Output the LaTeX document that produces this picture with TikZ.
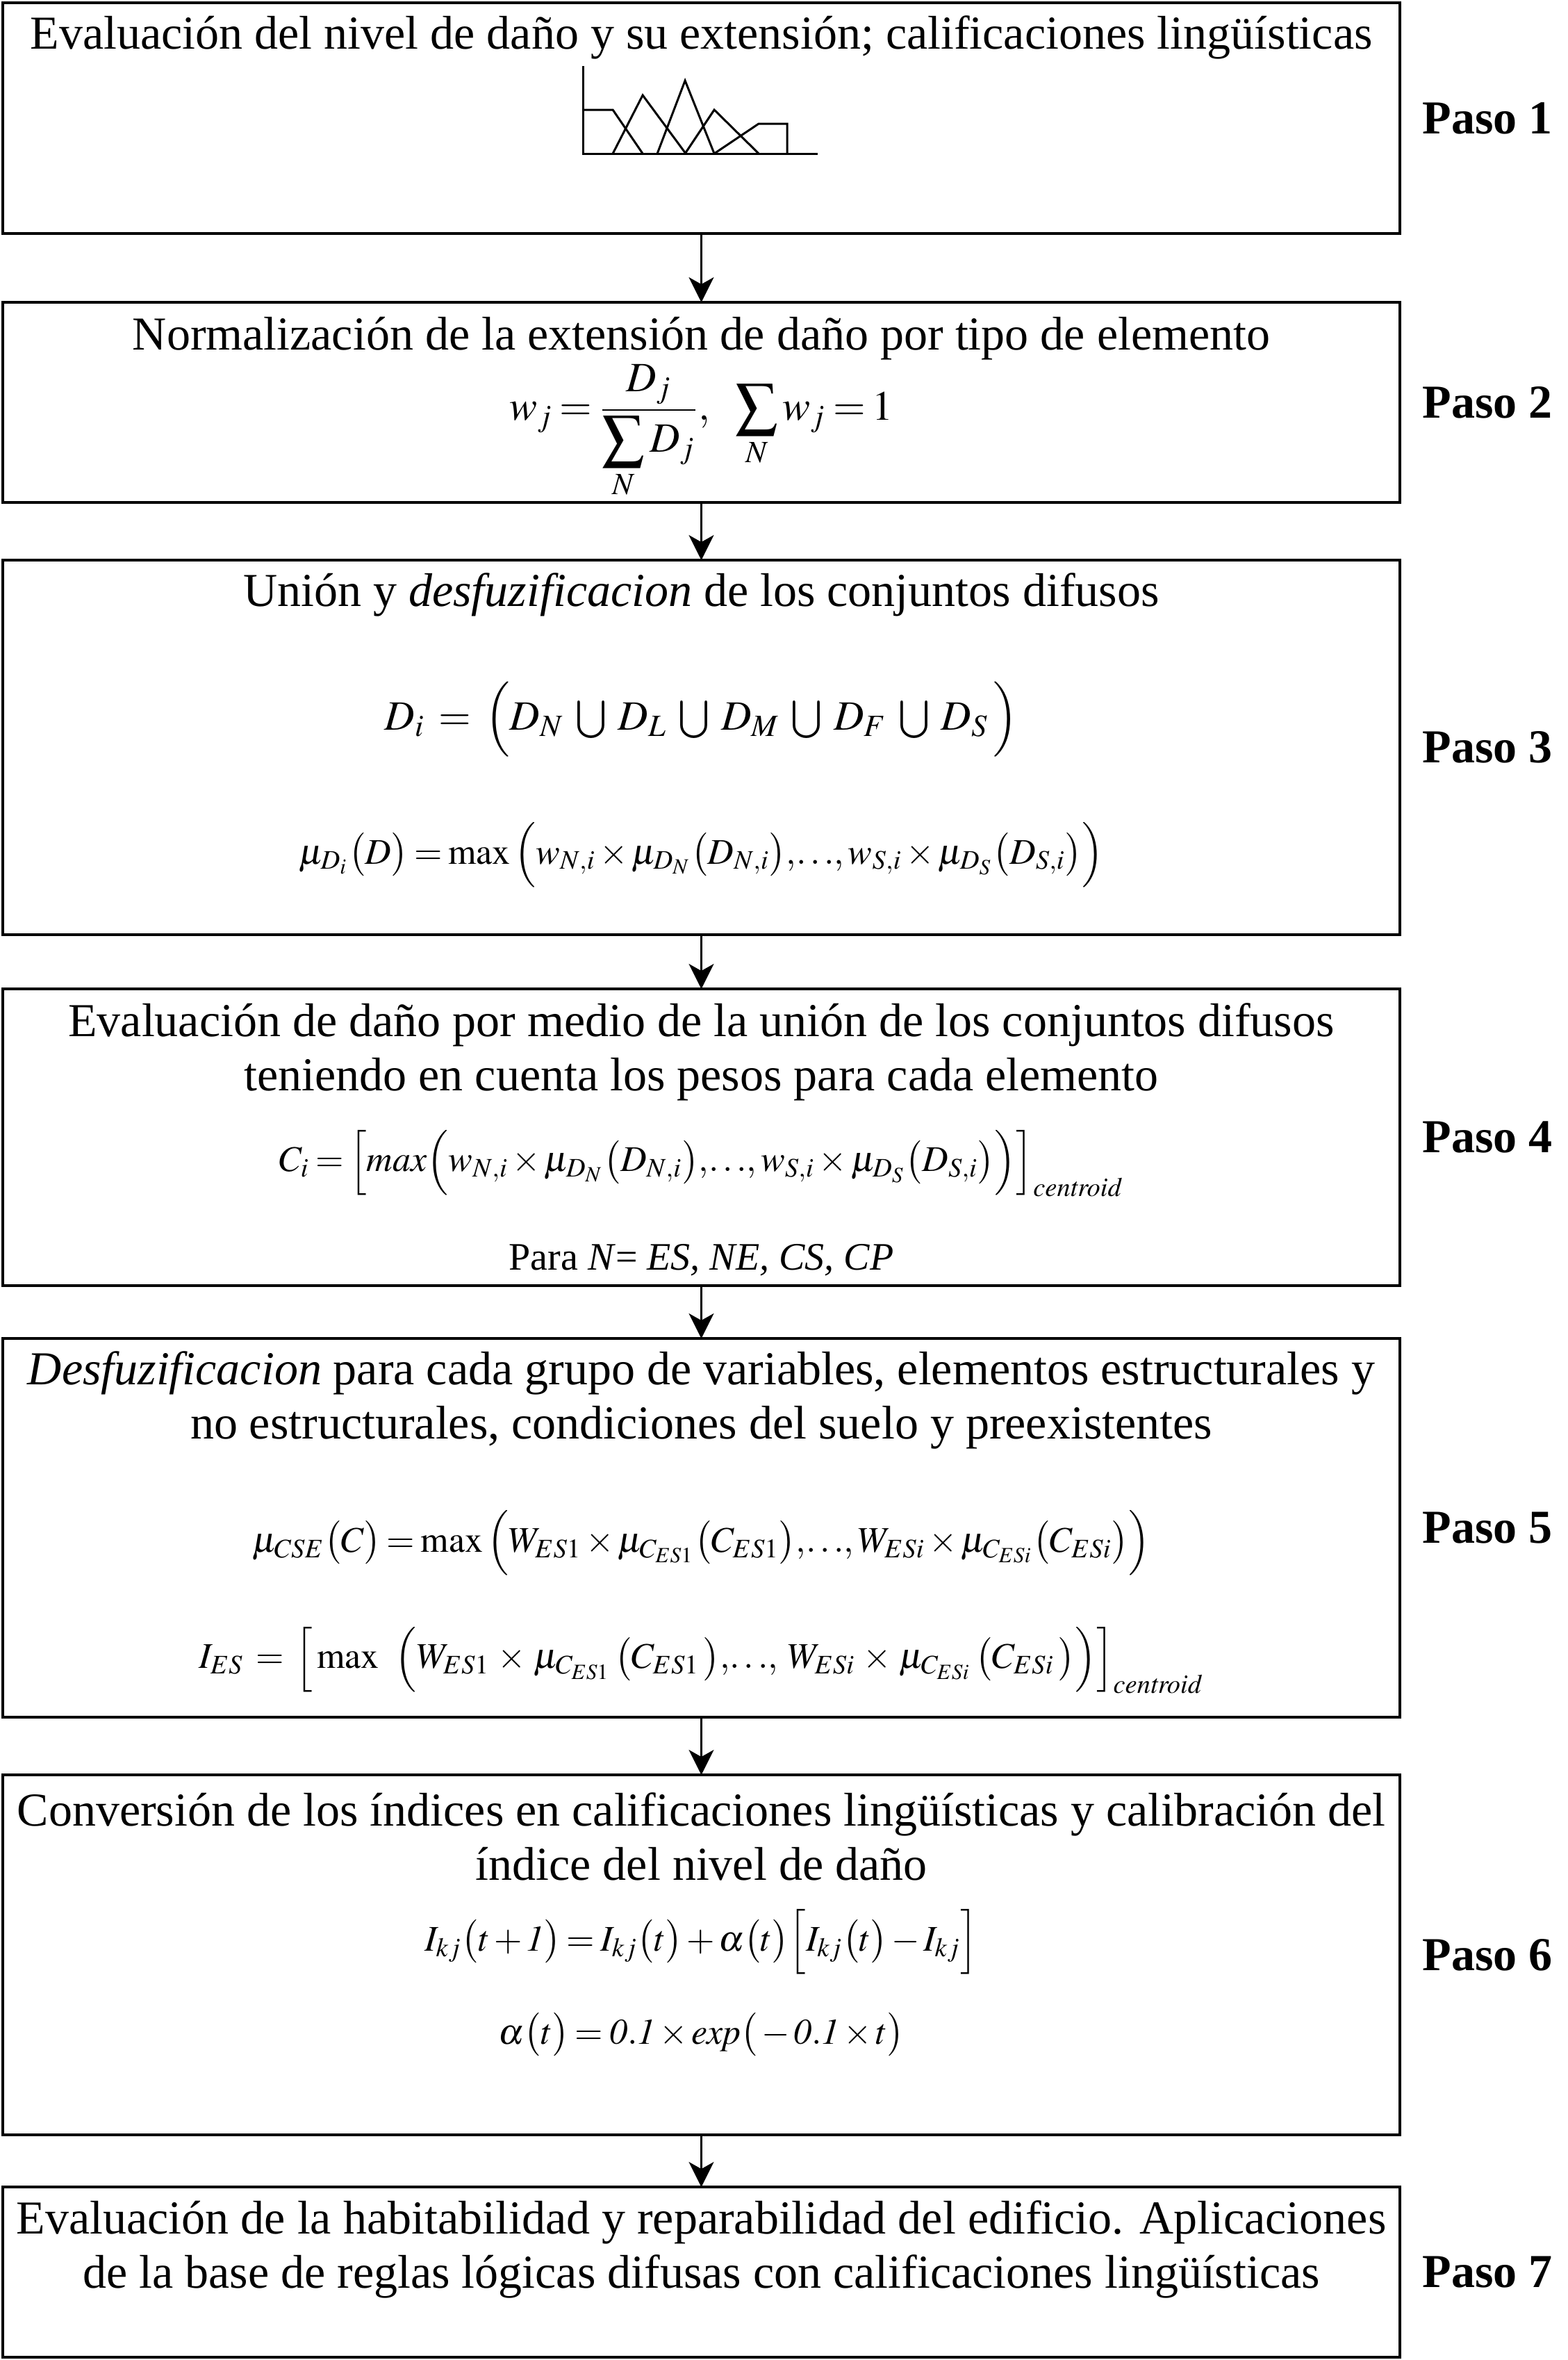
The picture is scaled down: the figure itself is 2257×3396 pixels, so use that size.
\documentclass[tikz,border=0pt]{standalone}
\usepackage{amsmath}
\usepackage{mathptmx}
\usepackage{fontspec}
\setmainfont{Liberation Serif}
\usetikzlibrary{arrows.meta,positioning}
\newcommand{\txtsize}{\fontsize{17}{19.5}\selectfont}
\newcommand{\fmsize}{\fontsize{13}{16}\selectfont\thickmuskip=3mu\relax\medmuskip=2mu\relax}
\newcommand{\fmbsize}{\fontsize{15}{18}\selectfont\thickmuskip=3mu\relax\medmuskip=2mu\relax}
\tikzset{stepbox/.style={draw,line width=1pt,minimum width=502.75pt,inner sep=0pt,outer sep=0pt},
 tx/.style={align=center,font=\txtsize,inner sep=0pt},
 fm/.style={align=center,font=\fmsize,inner sep=0pt},
 fmb/.style={align=center,font=\fmbsize,inner sep=0pt},
 paso/.style={font=\fontsize{17}{20}\selectfont\bfseries,inner sep=0pt},
 ar/.style={-{Stealth[length=9pt,width=9pt,inset=2.5pt]},line width=.75pt},
 fz/.style={line width=.75pt}}
\begin{document}
\begin{tikzpicture}[x=0.25pt,y=-0.25pt]
\useasboundingbox (0,0) rectangle (2257,3396);
% boxes
\node[stepbox,minimum height=83pt](s1) at (1009.5,170){};
\node[stepbox,minimum height=72pt,below=24.75pt of s1](s2){};
\node[stepbox,minimum height=134.75pt,below=20.75pt of s2](s3){};
\node[stepbox,minimum height=106.75pt,below=19.5pt of s3](s4){};
\node[stepbox,minimum height=136.25pt,below=19pt of s4](s5){};
\node[stepbox,minimum height=129.5pt,below=20.75pt of s5](s6){};
\node[stepbox,minimum height=61.25pt,below=18.75pt of s6](s7){};
% step labels
\node[paso,right=8pt of s1](p1){Paso 1};\node[paso,right=8pt of s2](p2){Paso 2};
\node[paso,right=8pt of s3](p3){Paso 3};\node[paso,right=8pt of s4](p4){Paso 4};
\node[paso,right=8pt of s5](p5){Paso 5};\node[paso,right=8pt of s6](p6){Paso 6};
\node[paso,right=8pt of s7](p7){Paso 7};
% step 1
\node[tx](t1) at ([yshift=-12.5pt]s1.north){Evaluación del nivel de daño y su extensión; calificaciones lingüísticas};
\coordinate (g0) at ([xshift=-42.6pt,yshift=-54.25pt]s1.north);
\begin{scope}[shift={(g0)},fz]
\draw (0,-126)--(0,0)--(338,0);
\draw (0,-63)--(43,-63)--(86,0);\draw (43,0)--(86,-84)--(148,0);
\draw (107,0)--(147,-105)--(189,0);\draw (147,0)--(189,-63)--(253,0);
\draw (189,0)--(253,-43)--(294,-43)--(294,0);
\end{scope}
% step 2
\node[tx](t2) at ([yshift=-13pt]s2.north){Normalización de la extensión de daño por tipo de elemento};
\node[fmb](f2) at ([yshift=-46.5pt]s2.north){$w_j=\dfrac{D_j}{\displaystyle\sum_N D_j},\;\;\;\displaystyle\sum_N w_j=1$};
% step 3
\node[tx](t3) at ([yshift=-12.5pt]s3.north){Unión y \textit{desfuzificacion} de los conjuntos difusos};
\node[fmb](f3a) at ([yshift=-57.25pt]s3.north){$D_i\;=\;\Big(D_N\;\bigcup\;D_L\;\bigcup\;D_M\;\bigcup\;D_F\;\bigcup\;D_S\,\Big)$};
\node[fm](f3b) at ([yshift=-106pt]s3.north){$\mu_{D_i}\big(D\big)=\max\Big(w_{N,i}\times\mu_{D_N}\big(D_{N,i}\big),\!\ldots\!,w_{S,i}\times\mu_{D_S}\big(D_{S,i}\big)\Big)$};
% step 4
\node[tx](t4) at ([yshift=-22.75pt]s4.north){Evaluación de daño por medio de la unión de los conjuntos difusos\\teniendo en cuenta los pesos para cada elemento};
\node[fm](f4) at ([yshift=-62.75pt]s4.north){$C_i=\Big[\mathit{max}\Big(w_{N,i}\times\mu_{D_N}\big(D_{N,i}\big),\!\ldots\!,w_{S,i}\times\mu_{D_S}\big(D_{S,i}\big)\Big)\Big]_{\mathit{centroid}}$};
\node[fmb,font=\fontsize{14}{17}\selectfont](n4) at ([yshift=-97.5pt]s4.north){Para \textit{N}= \textit{ES, NE, CS, CP}};
% step 5
\node[tx](t5) at ([yshift=-22.1pt]s5.north){\textit{Desfuzificacion} para cada grupo de variables, elementos estructurales y\\no estructurales, condiciones del suelo y preexistentes};
\node[fm](f5a) at ([yshift=-73.5pt]s5.north){$\mu_{CSE}\big(C\big)=\max\Big(W_{ES1}\times\mu_{C_{ES1}}\big(C_{ES1}\big),\!\ldots\!,W_{ESi}\times\mu_{C_{ESi}}\big(C_{ESi}\big)\Big)$};
\node[fm](f5b) at ([yshift=-115.75pt]s5.north){$I_{ES}\;=\;\Big[\max\;\;\Big(W_{ES1}\,\times\,\mu_{C_{ES1}}\,\big(C_{ES1}\,\big),\!\ldots\!,\;W_{ESi}\,\times\,\mu_{C_{ESi}}\,\big(C_{ESi}\,\big)\Big)\Big]_{\mathit{centroid}}$};
% step 6
\node[tx](t6) at ([yshift=-22.1pt]s6.north){Conversión de los índices en calificaciones lingüísticas y calibración del\\índice del nivel de daño};
\node[fm](f6a) at ([yshift=-60pt]s6.north){$I_{kj}\big(t+\mathit{1}\big)=I_{kj}\big(t\big)+\alpha\big(t\big)\Big[I_{kj}\big(t\big)-I_{kj}\Big]$};
\node[fm](f6b) at ([yshift=-93.5pt]s6.north){$\alpha\big(t\big)=\mathit{0.1}\times\mathit{exp}\big(-\mathit{0.1}\times t\big)$};
% step 7
\node[tx](t7) at ([yshift=-22.5pt]s7.north){Evaluación de la habitabilidad y reparabilidad del edificio. Aplicaciones\\de la base de reglas lógicas difusas con calificaciones lingüísticas};
% arrows
\draw[ar](s1)--(s2);\draw[ar](s2)--(s3);\draw[ar](s3)--(s4);
\draw[ar](s4)--(s5);\draw[ar](s5)--(s6);\draw[ar](s6)--(s7);
\end{tikzpicture}
\end{document}
